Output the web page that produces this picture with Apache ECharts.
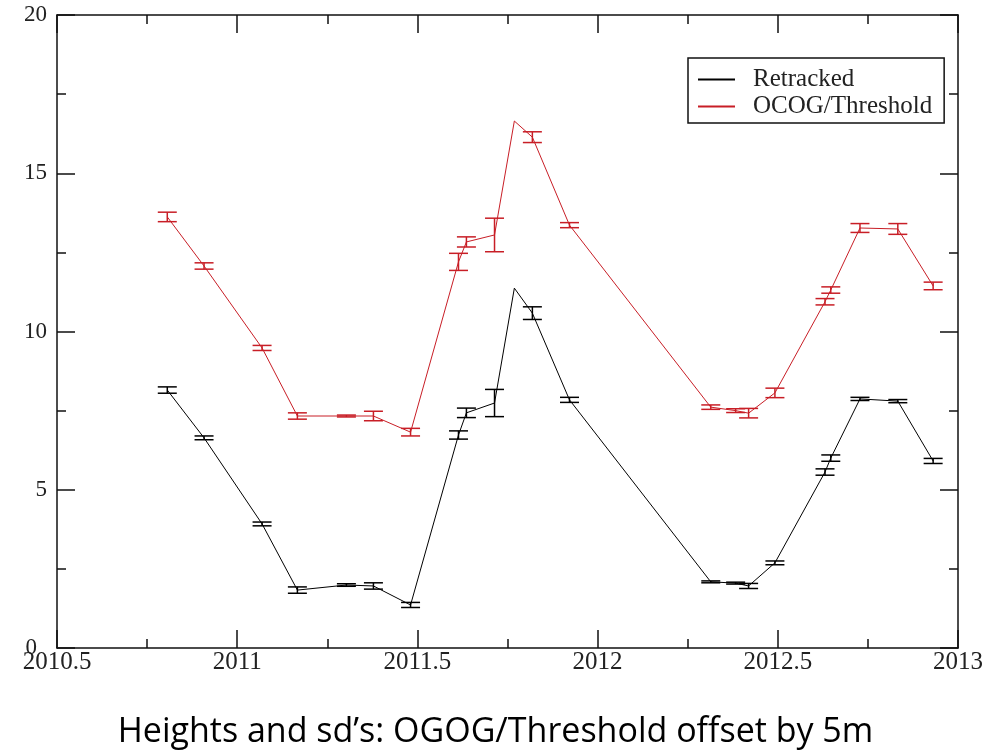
<!DOCTYPE html>
<html>
<head>
<meta charset="utf-8">
<script src="https://cdn.jsdelivr.net/npm/echarts@6/dist/echarts.min.js"></script>
<style>
  body { margin: 0; background: #fff; }
  #chart { width: 991px; height: 754px; }
</style>
</head>
<body>
<div id="chart"></div>
<script>
// time of each pass (decimal year)
var times = [2010.806, 2010.908, 2011.069, 2011.167, 2011.303, 2011.378, 2011.481,
    2011.614, 2011.636, 2011.714, 2011.769, 2011.819, 2011.922, 2012.314, 2012.383,
    2012.419, 2012.492, 2012.631, 2012.647, 2012.728, 2012.833, 2012.931];
// heights
var retracked = [8.15, 6.64, 3.92, 1.83, 1.99, 1.96, 1.36, 6.73, 7.43, 7.74, 11.37,
    10.58, 7.84, 2.09, 2.05, 1.96, 2.69, 5.56, 6.0, 7.87, 7.8, 5.91];
var ocog = [13.62, 12.07, 9.48, 7.33, 7.33, 7.33, 6.82, 12.2, 12.83, 13.05, 16.65,
    16.14, 13.36, 7.61, 7.5, 7.42, 8.06, 10.94, 11.31, 13.27, 13.24, 11.44];
// standard deviations (null = no bar)
var retrackedSd = [0.1, 0.06, 0.06, 0.1, 0.04, 0.1, 0.08, 0.13, 0.15, 0.43, null,
    0.2, 0.08, 0.03, 0.03, 0.08, 0.06, 0.1, 0.1, 0.05, 0.05, 0.08];
var ocogSd = [0.15, 0.1, 0.08, 0.1, 0.03, 0.15, 0.12, 0.27, 0.16, 0.53, null,
    0.17, 0.08, 0.07, 0.06, 0.15, 0.15, 0.1, 0.1, 0.14, 0.17, 0.12];
var xTicks = [2010.5, 2011, 2011.5, 2012, 2012.5, 2013];
var yTicks = [0, 5, 10, 15, 20];

var RED = '#c81e26';
var serif = '"Liberation Serif", "DejaVu Serif", serif';

function pairs(vals) {
    var out = [];
    for (var i = 0; i < times.length; i++) out.push([times[i], vals[i]]);
    return out;
}
function bars(vals, sds) {
    var out = [];
    for (var i = 0; i < times.length; i++) {
        if (sds[i] != null) out.push([times[i], vals[i], sds[i]]);
    }
    return out;
}
// vertical bar with caps, sized through the axes
function errorBar(color) {
    return function (params, api) {
        var x = api.value(0), y = api.value(1), e = api.value(2);
        var hi = api.coord([x, y + e]);
        var lo = api.coord([x, y - e]);
        var w = 9.5;
        var st = { stroke: color, lineWidth: 1.5 };
        return {
            type: 'group',
            children: [
                { type: 'line', shape: { x1: hi[0], y1: hi[1], x2: lo[0], y2: lo[1] }, style: st },
                { type: 'line', shape: { x1: hi[0] - w, y1: hi[1], x2: hi[0] + w, y2: hi[1] }, style: st },
                { type: 'line', shape: { x1: lo[0] - w, y1: lo[1], x2: lo[0] + w, y2: lo[1] }, style: st }
            ]
        };
    };
}

var axisBase = {
    type: 'value',
    axisLine: { show: true, onZero: false, lineStyle: { color: '#111', width: 1.5 } },
    axisTick: { show: true, inside: true, length: 18, lineStyle: { color: '#111', width: 1.5 } },
    minorTick: { show: true, splitNumber: 2, length: 9, lineStyle: { color: '#111', width: 1.5 } },
    splitLine: { show: false }
};

var chart = echarts.init(document.getElementById('chart'));
var option = {
    backgroundColor: '#fff',
    animation: false,
    grid: { left: 57, right: 33, top: 15, bottom: 106 },
    title: {
        text: 'Heights and sd\u2019s: OGOG/Threshold offset by 5m',
        left: 'center',
        top: 710,
        textStyle: { fontFamily: '"Open Sans", "Noto Sans", sans-serif', fontSize: 34, fontWeight: 'normal', color: '#000' }
    },
    legend: {
        orient: 'vertical',
        left: 688,
        top: 58,
        padding: [9, 12, 4, 10],
        itemGap: 2,
        itemWidth: 37,
        itemHeight: 2,
        icon: 'rect',
        borderColor: '#111',
        borderWidth: 1.5,
        borderRadius: 0,
        data: ['Retracked', 'OCOG/Threshold'],
        textStyle: { fontFamily: serif, fontSize: 25, color: '#222', padding: [0, 0, 0, 13] }
    },
    xAxis: [
        Object.assign({}, axisBase, {
            min: 2010.5, max: 2013, interval: 0.5,
            axisLabel: {
                fontFamily: serif, fontSize: 25, color: '#222', margin: 2,
                formatter: function (v) { return xTicks.indexOf(v) >= 0 ? String(v) : ''; }
            }
        }),
        Object.assign({}, axisBase, {
            position: 'top', min: 2010.5, max: 2013, interval: 0.5,
            axisLabel: { show: false }
        })
    ],
    yAxis: [
        Object.assign({}, axisBase, {
            min: 0, max: 20, interval: 5,
            axisLabel: {
                fontFamily: serif, fontSize: 23, color: '#222', margin: 10,
                formatter: function (v) {
                    if (yTicks.indexOf(v) < 0) return '';
                    return v === 0 ? '{z|0}' : String(v);
                },
                rich: { z: { fontFamily: serif, fontSize: 23, color: '#222', padding: [0, 10, 0, 0] } }
            }
        }),
        Object.assign({}, axisBase, {
            position: 'right', min: 0, max: 20, interval: 5,
            axisLabel: { show: false }
        })
    ],
    series: [
        {
            name: 'Retracked', type: 'line', data: pairs(retracked),
            showSymbol: false, symbol: 'none', color: '#000',
            lineStyle: { color: '#000', width: 1 }
        },
        {
            name: 'OCOG/Threshold', type: 'line', data: pairs(ocog),
            showSymbol: false, symbol: 'none', color: RED,
            lineStyle: { color: RED, width: 1 }
        },
        {
            name: 'Retracked sd', type: 'custom', renderItem: errorBar('#000'),
            data: bars(retracked, retrackedSd), encode: { x: 0, y: 1 }
        },
        {
            name: 'OCOG sd', type: 'custom', renderItem: errorBar(RED),
            data: bars(ocog, ocogSd), encode: { x: 0, y: 1 }
        }
    ]
};
chart.setOption(option);
</script>
</body>
</html>
